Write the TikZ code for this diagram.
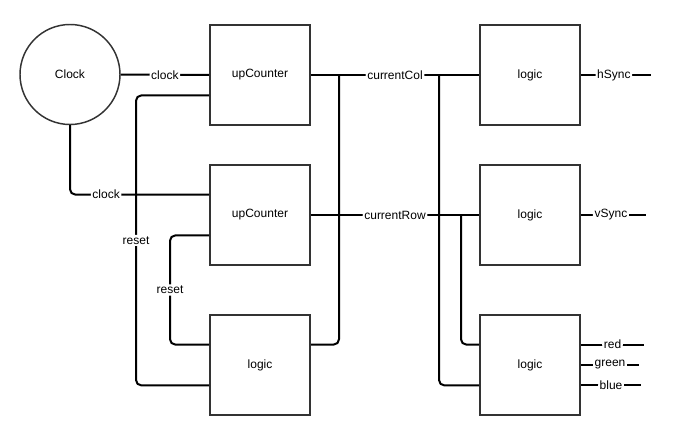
\documentclass[tikz,border=0pt]{standalone}
\usepackage{fontspec}
\setmainfont{Liberation Sans}
\usetikzlibrary{calc,positioning}
\tikzset{
	block/.style={draw=black!80, line width=1.5pt, fill=white, minimum width=75pt, minimum height=75pt, inner sep=0pt, font=\fontsize{9}{11}\selectfont},
	clocknode/.style={circle, draw=black!80, line width=1.1pt, fill=white, minimum size=75pt, inner sep=0pt, font=\fontsize{9}{11}\selectfont},
	wire/.style={line width=1.5pt, rounded corners=4pt},
	sig/.style={fill=white, inner sep=1.2pt, font=\fontsize{9}{11}\selectfont}
}

\begin{document}
\begin{tikzpicture}[x=0.75pt, y=-0.75pt]
				\useasboundingbox (0, 0) rectangle (673, 435);
				
				\node[clocknode] (clk) at (70, 74.5) {Clock};
				
				\node[block] (uc1) at (260, 75) {upCounter};
				\node[block] (uc2) at (260, 215) {upCounter};
				\node[block] (lg1) at (260, 365) {logic};
				
				\node[block] (lr1) at (530, 75) {logic};
				\node[block] (lr2) at (530, 215) {logic};
				\node[block] (lr3) at (530, 365) {logic};
				
				\coordinate (uc1in) at ($(uc1.north west)!0.7!(uc1.south west)$);
				\coordinate (uc2clk) at ($(uc2.north west)!0.3!(uc2.south west)$);
				\coordinate (uc2in) at ($(uc2.north west)!0.7!(uc2.south west)$);
				\coordinate (lg1a) at ($(lg1.north west)!0.3!(lg1.south west)$);
				\coordinate (lg1b) at ($(lg1.north west)!0.7!(lg1.south west)$);
				\coordinate (lg1out) at ($(lg1.north east)!0.3!(lg1.south east)$);
				\coordinate (lr3a) at ($(lr3.north west)!0.3!(lr3.south west)$);
				\coordinate (lr3b) at ($(lr3.north west)!0.7!(lr3.south west)$);
				\coordinate (lr3r) at ($(lr3.north east)!0.3!(lr3.south east)$);
				\coordinate (lr3g) at ($(lr3.north east)!0.5!(lr3.south east)$);
				\coordinate (lr3u) at ($(lr3.north east)!0.7!(lr3.south east)$);
				
				\coordinate (colJ) at ($(uc1.east)+(28, 0)$);
				\coordinate (colK) at ($(lr1.west)+(-40, 0)$);
				\coordinate (rowK) at ($(lr2.west)+(-18, 0)$);
				
				\coordinate (hsEnd) at ($(lr1.east)+(70, 0)$);
				\coordinate (vsEnd) at ($(lr2.east)+(65, 0)$);
				\coordinate (redEnd) at ($(lr3r)+(63, 0)$);
				\coordinate (greenEnd) at ($(lr3g)+(58, 0)$);
				\coordinate (blueEnd) at ($(lr3u)+(60, 0)$);
				
				\draw[wire] (clk) -- node[sig] {clock} (uc1);
				\draw[wire] (clk.south) |- node[sig, pos=0.63] {clock} (uc2clk);
				
				\draw[wire] (lg1b) -- ++(-73, 0) |- node[sig, pos=0.25] {reset} (uc1in);
				\draw[wire] (lg1a) -- ++(-39, 0) |- node[sig, pos=0.25] {reset} (uc2in);
				
				\draw[wire] (uc1) -- node[sig] {currentCol} (lr1);
				\draw[wire] (uc2) -- node[sig] {currentRow} (lr2);
				\draw[wire] (lg1out) -| (colJ);
				\draw[wire] (colK) |- (lr3b);
				\draw[wire] (rowK) |- (lr3a);
				
				\draw[wire] (lr1.east) -- node[sig, pos=0.47] {hSync} (hsEnd);
				\draw[wire] (lr2.east) -- node[sig, pos=0.46] {vSync} (vsEnd);
				\draw[wire] (lr3r) -- node[sig] {red} (redEnd);
				\draw[wire] (lr3g) -- node[sig] {green} (greenEnd);
				\draw[wire] (lr3u) -- node[sig] {blue} (blueEnd);
			\end{tikzpicture}
\end{document}
